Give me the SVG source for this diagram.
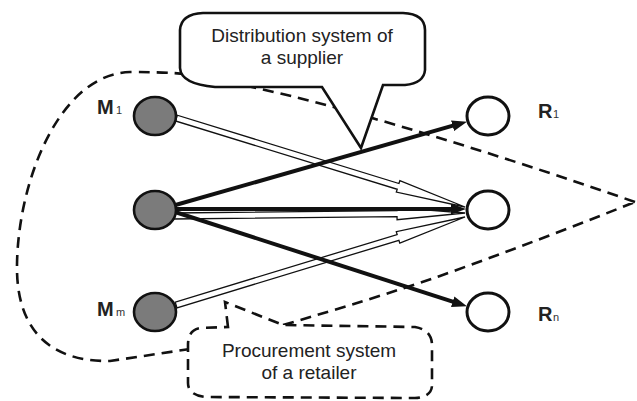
<svg xmlns="http://www.w3.org/2000/svg" width="637" height="401" viewBox="0 0 637 401">
<style>
.loop{fill:none;stroke:#111;stroke-width:2.6;stroke-dasharray:11 7}
.callout{fill:#fff;stroke:#111;stroke-width:2.6;stroke-linejoin:miter}
.dcall{fill:#fff;stroke:#111;stroke-width:2.6;stroke-dasharray:11 7}
.hollow{fill:#fff;stroke:#111;stroke-width:1.3;stroke-linejoin:miter}
.thick{stroke:#111;stroke-width:4;fill:none}
.mnode{fill:#7b7b7b;stroke:#111;stroke-width:2.6}
.rnode{fill:#fff;stroke:#111;stroke-width:3}
.lbl{font-family:"Liberation Sans",Arial,sans-serif;font-weight:bold;font-size:20px;fill:#222}
.sub{font-family:"Liberation Sans",Arial,sans-serif;font-size:11px;fill:#333}
.txt{font-family:"Liberation Sans",Arial,sans-serif;font-size:19px;fill:#222;text-anchor:middle}
</style>
<defs>
<marker id="ah" markerUnits="userSpaceOnUse" markerWidth="15" markerHeight="11" refX="4" refY="5.5" orient="auto">
<path d="M0,0 L15,5.5 L0,11 Z" fill="#111"/>
</marker>
</defs>
<g id="boundary">
<path class="loop" d="M635,202 Q480,148 330,106 Q270,90 200,76 Q180,72 130,72 C60,74 18,180 17,265 C16,330 50,362 110,361 L190,349 M283,325 Q370,300 440,276 Q540,240 635,202"/>
</g>
<g id="distribution-callout">
<path class="callout" d="M203,13 L403,13 Q425,14 425,30 L425,70 Q424,83 405,85 L383,85 L361,148 L322,87 L215,87 Q181,84 180,68 L180,30 Q181,14 203,13 Z"/>
<text class="txt" x="302" y="42">Distribution system of</text>
<text class="txt" x="302" y="64">a supplier</text>
</g>
<g id="procurement-callout">
<path class="dcall" d="M228,327 L225,302 L283,325 L415,327 Q432,330 432,345 L432,385 Q432,397 415,398 L205,397 Q188,395 188,383 L188,345 Q188,330 200,328 Z"/>
<text class="txt" x="309" y="357">Procurement system</text>
<text class="txt" x="309" y="379">of a retailer</text>
</g>
<g id="connectors">
<g transform="translate(465,207) rotate(17.12)"><path class="hollow" d="M0,0 L-70,-6 L-70,-3 L-302,-3 L-302,3 L-70,3 L-70,6 Z"/></g>
<g transform="translate(465,213) rotate(-0.59)"><path class="hollow" d="M0,0 L-68,-6 L-68,-3 L-293,-3 L-293,3 L-68,3 L-68,6 Z" transform="translate(0,0)"/></g>
<g transform="translate(465,217) rotate(-16.94)"><path class="hollow" d="M0,0 L-70,-6 L-70,-3 L-302,-3 L-302,3 L-70,3 L-70,6 Z"/></g>
<line class="thick" x1="172" y1="206" x2="456.4" y2="124.7" marker-end="url(#ah)"/>
<line class="thick" x1="170" y1="209" x2="455" y2="209" marker-end="url(#ah)"/>
<line class="thick" x1="172" y1="211" x2="456.5" y2="302.9" marker-end="url(#ah)"/>
</g>
<g id="M1"><ellipse class="mnode" cx="155" cy="116" rx="21" ry="19"/><text class="lbl" x="97" y="114">M</text><text class="sub" x="116" y="114">1</text></g>
<g id="Mmid"><ellipse class="mnode" cx="155" cy="210" rx="21" ry="19"/></g>
<g id="Mm"><ellipse class="mnode" cx="155" cy="312" rx="21" ry="19"/><text class="lbl" x="97" y="316">M</text><text class="sub" x="116" y="316">m</text></g>
<g id="R1"><ellipse class="rnode" cx="488" cy="116" rx="21" ry="19"/><text class="lbl" x="538" y="118">R</text><text class="sub" x="553" y="118">1</text></g>
<g id="Rmid"><ellipse class="rnode" cx="488" cy="210" rx="21" ry="19"/></g>
<g id="Rn"><ellipse class="rnode" cx="488" cy="312" rx="21" ry="19"/><text class="lbl" x="538" y="321">R</text><text class="sub" x="553" y="321">n</text></g>
</svg>
